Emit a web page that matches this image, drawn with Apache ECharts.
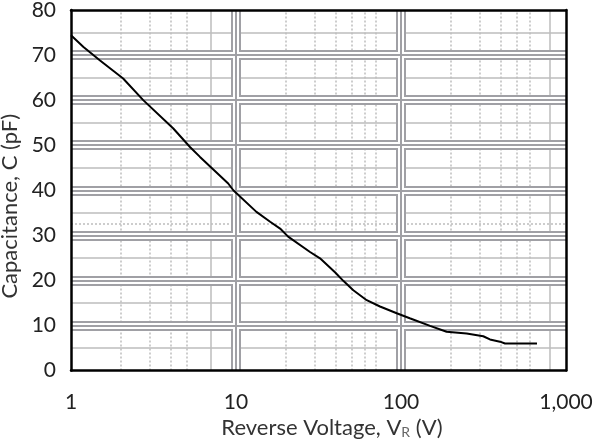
<!DOCTYPE html>
<html>
<head>
<meta charset="utf-8">
<script src="https://cdn.jsdelivr.net/npm/echarts@6/dist/echarts.min.js"></script>
<style>html,body{margin:0;padding:0;background:#fff}#c{width:600px;height:439px}</style>
</head>
<body>
<div id="c"></div>
<script>
// Reverse voltage (V) and capacitance (pF)
const voltage = [1, 1.19, 1.5, 2.07, 2.74, 4.17, 5.26, 6.05, 8.97, 9.63, 13.3, 16.1, 18.5, 20.7, 28.1, 32.3, 39.8, 44.7, 51.4, 62.0, 74.6, 94.2, 113, 150, 189, 250, 315, 346, 398, 427, 667];
const capacitance = [74.4, 71.8, 68.8, 64.8, 60.0, 53.7, 49.6, 47.4, 41.5, 40.0, 35.2, 33.0, 31.5, 29.7, 26.3, 24.9, 21.8, 19.9, 17.8, 15.6, 14.2, 12.7, 11.6, 9.9, 8.6, 8.2, 7.6, 6.9, 6.4, 6.0, 6.0];
// grid positions drawn in the reference
const xDottedGrid = [2, 3, 4, 5, 20, 30, 40, 50, 60, 70, 200, 300, 400, 500, 600];
const xLightGrid = [7, 800];
const yDottedGrid = [32.5];
const xRange = [1, 1000];
const yRange = [0, 80];
const yStep = 10;

const FONT = 'Lato';
const BAND = '#a0a0a5';
const LIGHT = '#bdbdbd';

function xAx(i, extra) {
  return Object.assign({
    type: 'log', logBase: 10, min: xRange[0], max: xRange[1], interval: 1,
    gridIndex: 0, z: i,
    axisLine: { show: false }, axisTick: { show: false }, axisLabel: { show: false },
    splitLine: { show: false }
  }, extra);
}
function yAx(i, extra) {
  return Object.assign({
    type: 'value', min: yRange[0], max: yRange[1], interval: yStep,
    gridIndex: 0, z: i,
    axisLine: { show: false }, axisTick: { show: false }, axisLabel: { show: false },
    splitLine: { show: false }
  }, extra);
}
const band = (w, c) => ({ show: true, showMinLine: false, showMaxLine: false, lineStyle: { color: c, width: w } });
const frame = { show: true, onZero: false, lineStyle: { color: '#000', width: 2.5 } };

const option = {
  animation: false,
  backgroundColor: '#fff',
  grid: { left: 71, right: 34, top: 10, bottom: 68.5, containLabel: false, outerBoundsMode: 'none' },
  xAxis: [
    xAx(1, { splitLine: band(10, BAND) }),
    xAx(2, { splitLine: band(6, '#fff') }),
    xAx(3, {
      position: 'bottom', splitLine: band(2, BAND), axisLine: frame,
      axisLabel: { show: true, margin: 21, fontFamily: FONT, fontSize: 21, color: '#222',
        formatter: v => Number(v).toLocaleString('en-US') },
      name: 'Reverse Voltage, V{s|R} (V)', nameLocation: 'middle', nameGap: 43,
      nameTextStyle: { fontFamily: FONT, fontSize: 22, color: '#333', padding: [0, 0, 0, 27],
        rich: { s: { fontFamily: FONT, fontSize: 14, color: '#666', verticalAlign: 'bottom', padding: [9, 0, 0, 0] } } }
    }),
    xAx(4, { position: 'top', axisLine: frame })
  ],
  yAxis: [
    yAx(1, { splitLine: band(10, BAND),
      minorTick: { show: false, splitNumber: 2 },
      minorSplitLine: { show: true, lineStyle: { color: LIGHT, width: 1.5 } } }),
    yAx(2, { splitLine: band(6, '#fff') }),
    yAx(3, {
      position: 'left', splitLine: band(2, BAND), axisLine: frame,
      axisLabel: { show: true, margin: 15, fontFamily: FONT, fontSize: 21, color: '#222' },
      name: 'Capacitance, C (pF)', nameLocation: 'middle', nameGap: 42,
      nameTextStyle: { fontFamily: FONT, fontSize: 22, color: '#333', padding: [0, 32, 0, 0] }
    }),
    yAx(4, { position: 'right', axisLine: frame })
  ],
  series: [
    {
      type: 'line', xAxisIndex: 2, yAxisIndex: 2, data: [], silent: true, z: 0,
      markLine: {
        silent: true, symbol: 'none', z: 0.5, label: { show: false },
        data: xDottedGrid.map(v => ({ xAxis: v, lineStyle: { color: LIGHT, width: 1.5, type: [2, 2] } }))
          .concat(xLightGrid.map(v => ({ xAxis: v, lineStyle: { color: LIGHT, width: 1.5, type: 'solid' } })))
          .concat(yDottedGrid.map(v => ({ yAxis: v, lineStyle: { color: LIGHT, width: 1.5, type: [2, 2] } })))
      }
    },
    {
      type: 'line', xAxisIndex: 2, yAxisIndex: 2, z: 10,
      data: voltage.map((v, i) => [v, capacitance[i]]),
      showSymbol: false, symbol: 'none', smooth: false,
      lineStyle: { color: '#000', width: 2 }
    }
  ]
};
echarts.init(document.getElementById('c'), null, { renderer: 'canvas' }).setOption(option);
</script>
</body>
</html>
